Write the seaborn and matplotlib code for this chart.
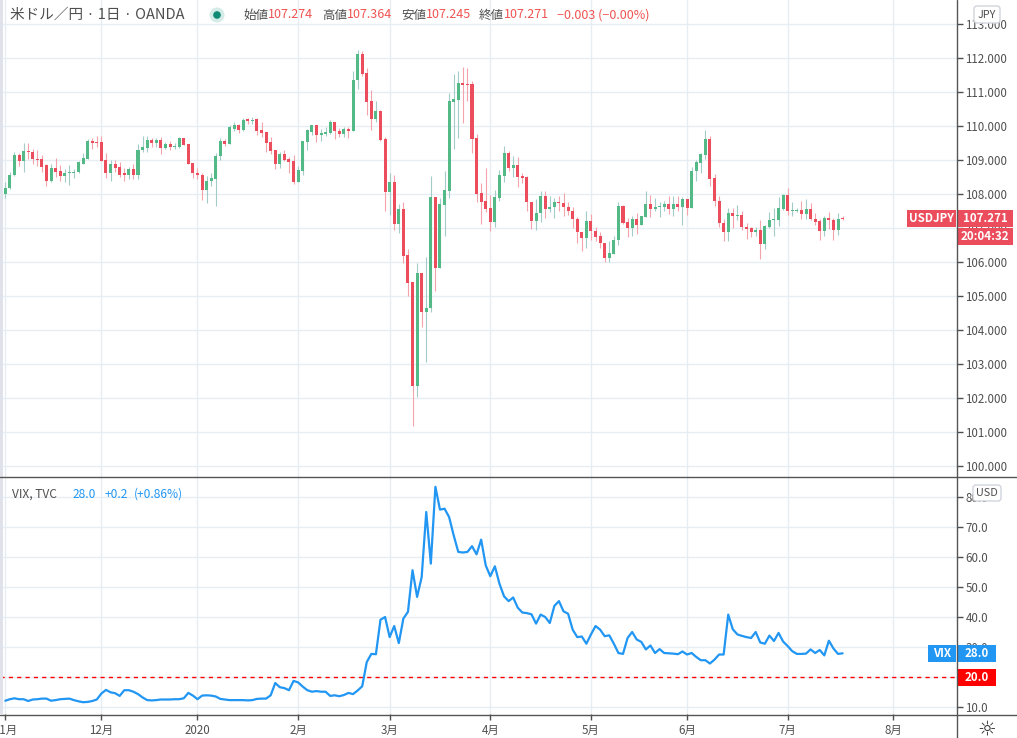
import numpy as np
import pandas as pd
import matplotlib
matplotlib.use("Agg")
import matplotlib.pyplot as plt
import seaborn as sns
from matplotlib.patches import Rectangle, FancyBboxPatch, Circle

# ---------------- data ----------------
usd_open = [
    108.01,108.17,108.55,109.16,108.97,109.28,109.25,109.04,109.04,108.84,
    108.39,108.78,108.69,108.52,108.61,108.61,108.64,108.89,109.04,109.55,
    109.52,109.52,108.99,108.61,108.88,108.79,108.61,108.55,108.75,108.55,
    109.29,109.35,109.58,109.49,109.58,109.35,109.46,109.38,109.38,109.64,
    109.46,108.90,108.63,108.57,108.11,108.38,108.45,109.12,109.55,109.46,
    109.92,110.02,109.87,110.20,110.15,110.20,109.87,109.82,109.53,109.30,
    108.88,109.18,109.03,108.97,108.35,108.69,109.54,109.83,110.03,109.74,
    109.77,109.80,110.13,109.86,109.77,109.92,109.86,111.34,112.13,111.57,
    110.74,110.21,110.45,109.62,108.06,108.35,107.11,107.56,106.20,105.40,
    102.36,105.67,104.52,104.64,107.91,105.84,107.67,108.09,110.71,110.77,
    111.27,111.24,111.24,109.65,108.03,107.79,107.58,107.17,107.88,108.52,
    109.22,108.76,108.84,108.53,108.49,107.78,107.20,107.43,107.93,107.55,
    107.61,107.78,107.75,107.63,107.51,107.28,106.89,106.70,107.22,106.92,
    106.76,106.57,106.11,106.25,106.64,107.66,107.17,107.01,107.26,107.08,
    107.32,107.72,107.55,107.61,107.63,107.72,107.55,107.72,107.63,107.84,
    107.58,108.69,108.91,109.14,109.61,108.46,107.81,107.16,106.87,107.43,
    107.35,107.37,107.03,106.99,106.89,106.94,106.54,107.04,107.23,107.23,
    107.57,107.98,107.49,107.51,107.54,107.40,107.57,107.28,107.22,106.90,
    107.31,107.25,106.93,107.274]
usd_high = [
    108.34,108.66,109.25,109.21,109.49,109.49,109.32,109.30,109.16,108.87,
    108.87,109.07,108.84,108.75,108.84,108.75,108.98,109.22,109.61,109.66,
    109.70,109.72,109.22,108.99,109.01,108.94,108.77,108.79,108.87,109.46,
    109.72,109.72,109.66,109.66,109.69,109.52,109.55,109.49,109.69,109.64,
    109.46,108.90,108.76,108.63,108.52,108.63,109.22,109.66,109.61,110.02,
    110.12,110.05,110.25,110.25,110.28,110.25,110.12,109.82,109.67,109.30,
    109.24,109.30,109.10,109.15,108.82,109.56,109.91,110.03,110.03,109.91,
    109.98,110.18,110.13,109.93,109.98,109.98,111.63,112.25,112.22,111.71,
    111.07,110.74,110.48,109.69,108.61,108.56,107.70,107.76,106.38,105.40,
    105.96,105.67,106.14,108.53,107.91,107.88,108.68,110.98,111.54,111.63,
    111.74,111.71,111.33,109.77,108.32,108.76,107.97,108.12,108.71,109.40,
    109.28,109.11,109.08,108.61,108.54,107.78,107.86,108.10,108.10,107.95,
    107.89,107.95,108.04,107.78,107.63,107.32,106.89,107.51,107.41,107.02,
    106.87,106.57,106.63,106.77,107.78,107.69,107.29,107.36,107.45,107.36,
    108.10,107.98,107.87,107.78,107.81,107.93,107.95,107.93,107.90,107.84,
    108.79,108.99,109.22,109.87,109.71,108.58,107.93,107.28,107.60,107.60,
    107.68,107.49,107.14,107.03,107.03,107.25,107.09,107.46,107.60,107.92,
    108.01,108.19,107.78,107.60,107.81,107.84,107.75,107.43,107.28,107.34,
    107.46,107.31,107.43,107.364]
usd_low = [
    107.87,108.15,108.54,108.82,108.64,109.04,108.88,108.83,108.64,108.23,
    108.36,108.49,108.37,108.34,108.26,108.46,108.63,108.89,109.04,109.32,
    109.38,108.97,108.46,108.39,108.64,108.49,108.39,108.43,108.43,108.43,
    109.23,109.23,109.38,109.38,109.17,109.32,109.31,109.32,109.35,109.44,
    108.88,108.46,108.43,107.83,107.75,108.25,107.64,108.99,109.40,109.46,
    109.85,109.79,109.85,110.07,110.05,109.74,109.67,109.25,109.18,108.74,
    108.76,108.98,108.61,108.29,108.35,108.56,109.30,109.74,109.54,109.56,
    109.71,109.77,109.62,109.69,109.69,109.66,109.86,111.10,111.48,110.33,
    109.89,110.12,109.56,107.50,107.38,106.94,106.86,105.97,104.99,101.18,
    102.02,104.10,103.07,104.52,105.14,105.84,106.76,107.88,109.33,109.65,
    110.09,110.74,109.21,107.76,107.11,107.47,106.91,107.02,107.79,108.35,
    108.67,108.50,108.20,108.32,107.49,106.96,106.93,107.17,107.29,107.46,
    107.29,107.51,107.35,107.39,106.99,106.55,106.34,106.40,106.64,106.61,
    106.40,105.99,105.99,106.25,106.49,107.11,106.73,106.76,106.84,107.08,
    107.32,107.32,107.49,107.32,107.49,107.40,107.35,107.51,107.08,107.37,
    107.58,108.39,108.61,109.03,108.25,107.64,107.02,106.61,106.61,107.00,
    107.25,106.94,106.67,106.74,106.76,106.08,106.39,107.01,106.78,107.06,
    107.54,107.37,107.34,107.48,107.28,107.28,107.23,107.08,106.65,106.78,
    106.98,106.65,106.81,107.245]
usd_close = [
    108.19,108.57,109.16,108.97,109.28,109.23,109.02,109.01,108.81,108.39,
    108.78,108.66,108.52,108.63,108.64,108.66,108.93,109.07,109.55,109.49,
    109.50,108.97,108.61,108.88,108.76,108.57,108.55,108.75,108.55,109.31,
    109.37,109.58,109.49,109.58,109.35,109.46,109.38,109.41,109.64,109.44,
    108.88,108.61,108.55,108.11,108.38,108.47,109.12,109.55,109.46,109.97,
    110.02,109.87,110.17,110.15,110.18,109.85,109.80,109.50,109.28,108.88,
    109.18,109.00,108.94,108.34,108.70,109.56,109.87,110.03,109.75,109.80,
    109.83,110.13,109.84,109.77,109.91,109.86,111.36,112.13,111.54,110.71,
    110.21,110.45,109.59,108.06,108.35,107.11,107.56,106.17,105.37,102.36,
    105.67,104.52,104.66,107.91,105.84,107.70,108.12,110.74,110.80,111.27,
    111.21,111.22,109.62,108.00,107.76,107.56,107.17,107.91,108.56,109.22,
    108.76,108.84,108.50,108.47,107.76,107.20,107.45,107.93,107.55,107.63,
    107.78,107.73,107.61,107.49,107.26,106.87,106.70,107.22,106.90,106.73,
    106.55,106.11,106.27,106.66,107.66,107.14,107.01,107.26,107.08,107.34,
    107.72,107.55,107.63,107.66,107.72,107.55,107.72,107.63,107.84,107.58,
    108.69,108.94,109.17,109.61,108.43,107.79,107.14,106.87,107.43,107.35,
    107.37,107.02,106.98,106.89,106.94,106.54,107.06,107.23,107.25,107.60,
    107.98,107.49,107.54,107.54,107.40,107.57,107.28,107.19,106.90,107.31,
    107.23,106.93,107.28,107.271]
vix_close = [
    12.2,12.7,13.0,12.7,12.7,12.1,12.6,12.7,12.9,12.9,
    12.2,12.4,12.7,12.8,12.9,12.4,12.0,11.7,11.8,12.1,
    12.6,14.6,15.8,15.0,14.7,13.8,15.7,15.7,15.2,14.4,
    13.3,12.4,12.3,12.4,12.6,12.6,12.6,12.7,12.7,13.0,
    14.8,13.9,12.7,13.9,14.0,13.9,13.6,12.8,12.6,12.4,
    12.4,12.4,12.4,12.3,12.4,12.8,12.9,12.9,14.0,18.1,
    16.7,16.4,15.7,18.8,18.3,16.9,15.7,15.2,15.4,15.2,
    15.2,13.8,14.0,13.7,14.1,14.8,14.4,15.6,17.0,25.1,
    27.8,27.7,39.2,40.1,33.4,37.1,31.4,39.6,41.8,55.7,
    46.8,53.4,75.1,57.9,83.5,75.9,76.2,73.4,67.3,61.8,
    61.6,61.8,63.7,61.0,65.9,57.3,53.7,57.0,51.2,47.0,
    45.4,46.6,43.2,41.6,41.4,41.0,37.9,40.9,40.1,38.1,
    43.8,45.4,42.0,41.2,35.9,33.4,33.6,31.2,34.3,37.1,
    35.9,33.7,34.0,31.2,28.1,27.8,33.1,35.1,32.6,31.8,
    29.3,30.6,28.1,29.4,28.1,28.0,27.9,27.7,28.6,27.6,
    28.1,26.8,25.7,25.7,24.6,25.9,27.6,27.6,40.9,36.0,
    34.3,33.8,33.4,33.1,35.1,31.6,31.2,33.9,32.1,34.8,
    31.9,30.4,28.7,27.8,27.8,27.9,29.3,28.1,29.1,27.3,
    32.2,29.6,27.8,28.0]
holidays = ["2019-12-25", "2020-01-01"]
price_ticks = list(range(100, 114))
vix_ticks = [10, 20, 30, 40, 50, 60, 70, 80]
vix_alert = 20.0
header_title = "米ドル／円 · 1日 · OANDA"
header_ohlc = [("始値", "107.274"), ("高値", "107.364"), ("安値", "107.245"), ("終値", "107.271")]
header_change = "−0.003 (−0.00%)"
vix_title = "VIX, TVC"
vix_change = ["28.0", "+0.2", "(+0.86%)"]
countdown = "20:04:32"

# ---------------- setup ----------------
sns.set_theme(style="white")
plt.rcParams["font.family"] = ["Noto Sans CJK JP", "DejaVu Sans"]

W, H = 1017, 738
UP, DN = "#53b987", "#eb4d5c"
UPW, DNW = "#a3cbc8", "#f4a3ab"
GRID = "#e6eef3"
TXT = "#4f4f4f"
BLUE = "#2196f3"

dates = pd.bdate_range("2019-11-01", "2020-08-31")
dates = dates[~dates.isin(pd.to_datetime(holidays))]
n = len(usd_close)
bars = np.arange(n)

months = pd.Series(np.arange(len(dates)), index=dates)
first = months.groupby([dates.year, dates.month]).first()
m_pos = list(first.values)
m_lab = [("%d" % y) if m == 1 else f"{m}月" for (y, m) in first.index]

fig = plt.figure(figsize=(W / 100, H / 100), dpi=100)
fig.patch.set_facecolor("white")
ax = fig.add_axes([0, (H - 477) / H, 957 / W, 477 / H])
ax2 = fig.add_axes([0, (H - 714) / H, 957 / W, 237 / H])

o = np.array(usd_open); h = np.array(usd_high)
l = np.array(usd_low); c = np.array(usd_close)
up = c >= o
body_b = np.minimum(o, c)
body_h = np.maximum(np.abs(c - o), 0.03)
for mask, bc, wc in [(up, UP, UPW), (~up, DN, DNW)]:
    ax.vlines(bars[mask], l[mask], h[mask], colors=wc, lw=0.8, zorder=2)
    ax.bar(bars[mask], body_h[mask], bottom=body_b[mask], width=0.66,
           color=bc, linewidth=0, zorder=3)

vdf = pd.DataFrame({"bar": bars, "vix": vix_close})
sns.lineplot(data=vdf, x="bar", y="vix", ax=ax2, color=BLUE, lw=1.6, zorder=3)
ax2.axhline(vix_alert, color="#ff0000", lw=1.0, dashes=(3, 3), zorder=2)

xlim = (-1.16, 208.0)
for a in (ax, ax2):
    a.set_xlim(*xlim)
    a.set_xticks(m_pos)
    a.set_facecolor("white")
    a.grid(True, color=GRID, lw=1)
    a.set_axisbelow(True)
    for s in a.spines.values():
        s.set_visible(False)
    a.yaxis.tick_right()
    a.tick_params(axis="y", direction="out", length=4, width=1, color=TXT,
                  labelsize=8.3, labelcolor=TXT, pad=2, right=True, left=False)
    a.set_xlabel(""); a.set_ylabel("")

ax.set_ylim(99.68, 113.706)
ax.set_yticks(price_ticks)
ax.set_yticklabels([f"{v:.3f}" for v in price_ticks])
ax.tick_params(axis="x", length=0, labelbottom=False)

ax2.set_ylim(7.77, 86.77)
ax2.set_yticks(vix_ticks)
ax2.set_yticklabels([f"{v:.1f}" for v in vix_ticks])
ax2.set_xticklabels(m_lab)
ax2.tick_params(axis="x", direction="out", length=4, width=1, color=TXT,
                labelsize=8.3, labelcolor=TXT, pad=3, bottom=True)

# ---------------- overlay (pixel coords) ----------------
ov = fig.add_axes([0, 0, 1, 1], zorder=10)
ov.set_xlim(0, W); ov.set_ylim(H, 0); ov.axis("off")
ov.patch.set_alpha(0)

def ypix(a, val):
    return H - a.transData.transform((0, val))[1]

LINE = "#555555"
ov.plot([0, W], [477, 477], color=LINE, lw=1)
ov.plot([0, W], [714.5, 714.5], color=LINE, lw=1)
ov.plot([957, 957], [0, H], color=LINE, lw=1)
ov.add_patch(Rectangle((0, 0), 2.6, 714, color="#dfe2ea", lw=0))

# header
ov.text(10, 15, header_title, ha="left", va="center", fontsize=10.5, color=TXT)
ov.add_patch(Circle((217, 15), 7.5, color="#d3ece8", lw=0))
ov.add_patch(Circle((217, 15), 3.8, color="#0f8a74", lw=0))
xs = [243, 322, 401, 479]
for (lab, val), x0 in zip(header_ohlc, xs):
    t = ov.text(x0, 15, lab, ha="left", va="center", fontsize=9, color=TXT)
    ov.text(x0 + 25, 15, val, ha="left", va="center", fontsize=9, color="#ef5350")
ov.text(557, 15, header_change, ha="left", va="center", fontsize=9, color="#ef5350")

ov.text(12, 494, vix_title, ha="left", va="center", fontsize=8.6, color=TXT)
for s, x0 in zip(vix_change, [73, 105, 134]):
    ov.text(x0, 494, s, ha="left", va="center", fontsize=8.6, color=BLUE)

def box(x0, x1, yc, hh, color, text):
    ov.add_patch(Rectangle((x0, yc - hh / 2), x1 - x0, hh, color=color, lw=0))
    ov.text((x0 + x1) / 2, yc, text, ha="center", va="center", fontsize=8.3,
            fontweight="bold", color="white")

def tag(x0, x1, y0, y1, text):
    ov.add_patch(FancyBboxPatch((x0, y0), x1 - x0, y1 - y0,
                                boxstyle="round,pad=0,rounding_size=3",
                                fc="white", ec="#d1d4dc", lw=1))
    ov.text((x0 + x1) / 2, (y0 + y1) / 2, text, ha="center", va="center",
            fontsize=7.8, color=TXT)

yl = ypix(ax, usd_close[-1])
box(907, 956, yl, 17, DN, "USDJPY")
box(957.5, 1013, yl, 17, DN, f"{usd_close[-1]:.3f}")
box(957.5, 1013, yl + 17.5, 17, DN, countdown)

yv = ypix(ax2, vix_close[-1])
box(928, 956, yv, 17, BLUE, "VIX")
box(957.5, 996, yv, 17, BLUE, f"{vix_close[-1]:.1f}")
ya = ypix(ax2, vix_alert)
box(957.5, 996, ya, 17, "#ff0000", f"{vix_alert:.1f}")

tag(974, 1000, 6, 23, "JPY")
tag(973, 1001, 485, 501, "USD")

ov.text(987, 729, "☼", ha="center", va="center", fontsize=15, color="#333333",
        family=["DejaVu Sans"])

fig.savefig("out.png", dpi=100, facecolor="white")
